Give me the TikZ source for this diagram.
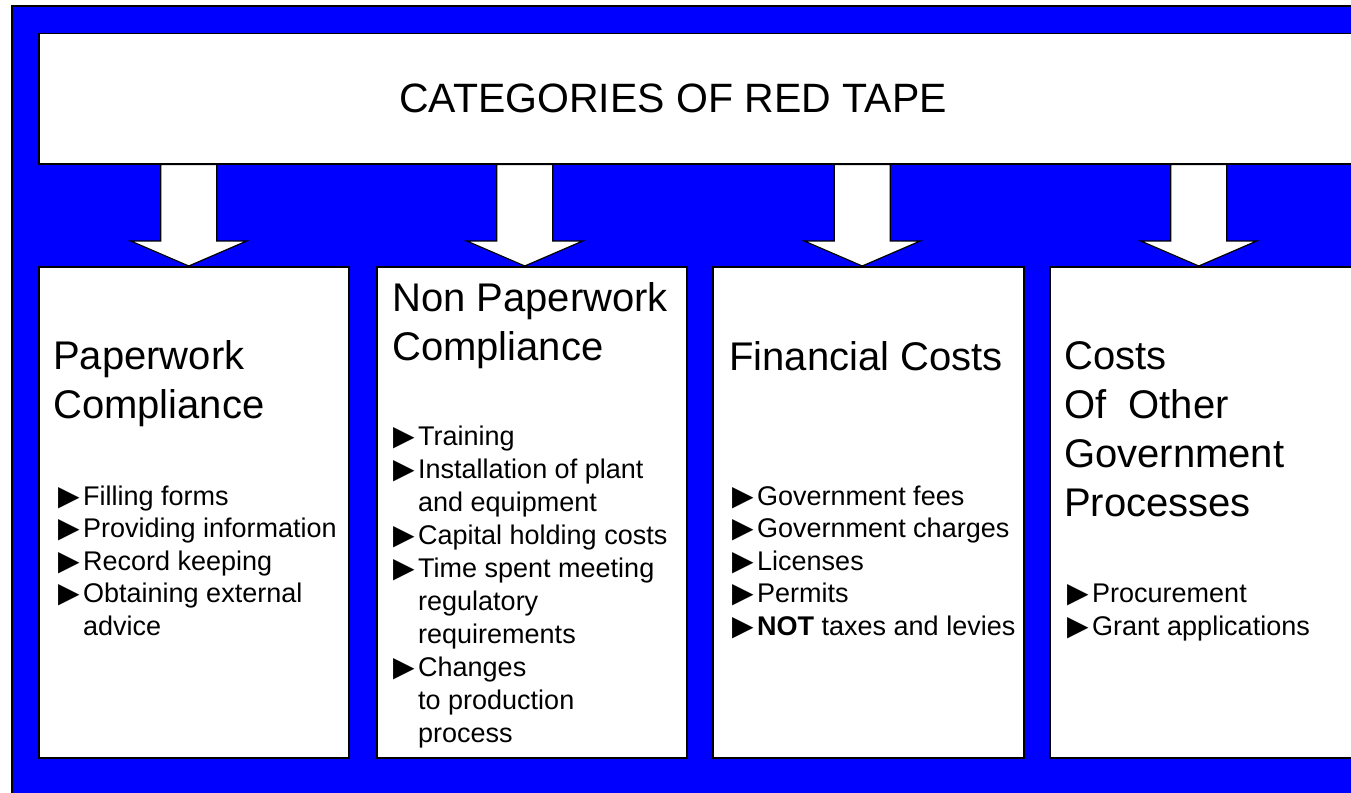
\documentclass[tikz,border=0pt]{standalone}
\usepackage{fontspec}
\setmainfont{Liberation Sans}
\newfontfamily\dejavu{DejaVu Sans}
\usetikzlibrary{calc}
\newcommand{\bul}{\makebox[25pt][l]{\dejavu\fontsize{28}{28}\selectfont ▶}}
\newcommand{\ind}{\hspace*{25pt}}
\definecolor{slideblue}{RGB}{0,0,255}
\begin{document}
\begin{tikzpicture}[x=1pt,y=-1pt,
  panel/.style={draw=black, line width=1.5pt, fill=white, inner sep=0pt, anchor=north west, minimum height=491pt},
  head/.style={anchor=base west, inner sep=0pt, align=left, font=\fontsize{40}{49}\selectfont},
  items/.style={anchor=base west, inner sep=0pt, align=left, font=\fontsize{27}{32.5}\selectfont},
  arr/.style={draw=black, line width=1.2pt, fill=white, line join=miter}]
\useasboundingbox (0,0) rectangle (1351,792);
\clip (0,0) rectangle (1351,792);
\fill[white] (0,0) rectangle (1351,792);
\draw[fill=slideblue, line width=1.5pt] (12,6) rectangle (1380,820);

% title box
\node[panel, minimum width=1340pt, minimum height=130pt] (title) at (38,33) {};
\node[anchor=base, inner sep=0pt, font=\fontsize{41}{48}\selectfont] (titletext) at (673,112) {CATEGORIES OF RED TAPE};

% category boxes
\node[panel, minimum width=310pt] (b1) at (38,266) {};
\node[panel, minimum width=310pt] (b2) at (376,266) {};
\node[panel, minimum width=311pt] (b3) at (712,266) {};
\node[panel, minimum width=320pt] (b4) at (1049,266) {};

% block arrows
\foreach \b/\s in {b1/-5,b2/-7,b3/-6,b4/-11} {
  \coordinate (tip) at ([xshift=\s pt]\b.north);
  \draw[arr] (tip) -- ++(-58,-25) -- ++(30,0) -- ($(tip |- title.south)+(-28,0)$)
    -- ++(56,0) -- ($(tip)+(28,-25)$) -- ++(30,0) -- cycle;
}

% headings (anchor = baseline of the last line)
\node[head] (h1) at (53,418) {Paperwork\\Compliance};
\node[head] (h2) at (392,360) {Non Paperwork\\Compliance};
\node[head] (h3) at (729,370) {Financial Costs};
\node[head] (h4) at (1064,516) {Costs\\Of\ \ Other\\Government\\Processes};

% bullet lists (anchor = baseline of the last line)
\node[items] (l1) at (58,635) {\bul Filling forms\\\bul Providing information\\\bul Record keeping\\\bul Obtaining external\\\ind advice};
\node[items, font=\fontsize{27}{33}\selectfont] (l2) at (393,742) {\bul Training\\\bul Installation of plant\\\ind and equipment\\\bul Capital holding costs\\\bul Time spent meeting\\\ind regulatory\\\ind requirements\\\bul Changes\\\ind to production\\\ind process};
\node[items] (l3) at (732,635) {\bul Government fees\\\bul Government charges\\\bul Licenses\\\bul Permits\\\bul \textbf{NOT} taxes and levies};
\node[items] (l4) at (1067,635) {\bul Procurement\\\bul Grant applications};
\end{tikzpicture}
\end{document}
